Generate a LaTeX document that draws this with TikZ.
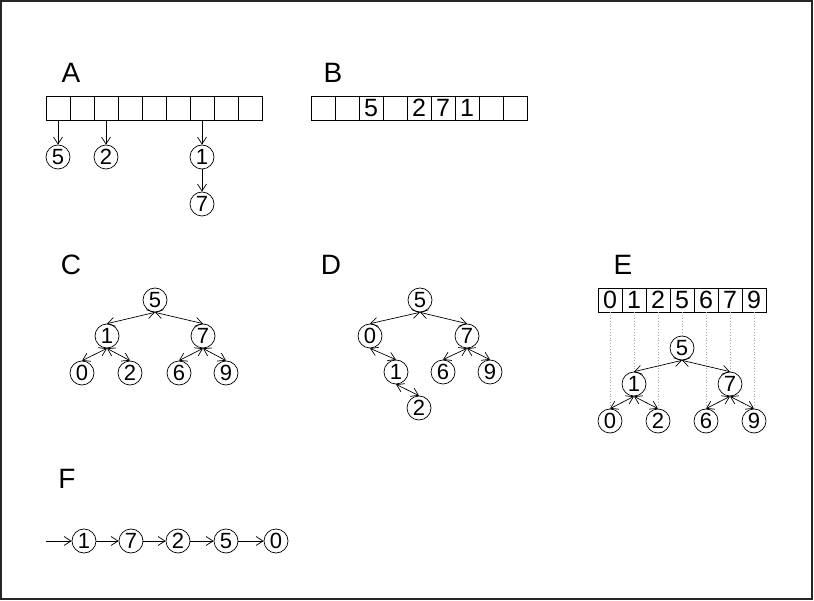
\documentclass[tikz,border=0pt]{standalone}
\usepackage{fontspec}
\setmainfont{Liberation Sans}
\usetikzlibrary{arrows.meta, positioning}

\tikzset{
  tip/.style={-{Straight Barb[length=7pt,width=9pt]}},
  bitip/.style={{Straight Barb[length=7pt,width=9pt]}-{Straight Barb[length=7pt,width=9pt]}},
  key/.style={circle, draw, line width=0.7pt, minimum size=24pt, inner sep=0pt,
    font=\fontsize{22}{22}\selectfont},
  cell/.style={draw, line width=0.7pt, minimum width=24pt, minimum height=24pt,
    inner sep=0pt, font=\fontsize{25}{25}\selectfont},
  title/.style={font=\fontsize{28}{28}\selectfont},
  guide/.style={gray!70, dotted, line width=0.8pt}
}

\begin{document}
\begin{tikzpicture}[x=1pt, y=-1pt, line width=0.7pt]
\useasboundingbox (0,0) rectangle (814,601);
\draw[line width=1.5pt, black!85] (1,1) rectangle (812,599);

% A: table with chains
\node[title] (labA) at (71,73) {A};
\foreach \i in {1,...,9}
  \node[cell] (a\i) at ({34+24*\i},108) {};
\node[key] (a5k) at (58,157) {5};
\node[key] (a2k) at (106,157) {2};
\node[key] (a1k) at (202,157) {1};
\node[key] (a7k) at (202,204) {7};
\draw[tip] (a1.south) -- (a5k.north);
\draw[tip] (a3.south) -- (a2k.north);
\draw[tip] (a7.south) -- (a1k.north);
\draw[tip] (a1k.south) -- (a7k.north);

% B: open addressing
\node[title] (labB) at (333,73) {B};
\foreach \i/\v in {1/,2/,3/5,4/,5/2,6/7,7/1,8/,9/}
  \node[cell] (b\i) at ({299+24*\i},108) {\v};

% C: binary search tree
\node[title] (labC) at (71,265) {C};
\node[key] (c5) at (155,300) {5};
\node[key] (c1) at (107,336) {1};
\node[key] (c7) at (203,336) {7};
\node[key] (c0) at (82,373) {0};
\node[key] (c2) at (130,373) {2};
\node[key] (c6) at (179,373) {6};
\node[key] (c9) at (226,373) {9};
\foreach \p/\c in {c5/c1, c5/c7, c1/c0, c1/c2, c7/c6, c7/c9}
  \draw[bitip] (\p.south) -- (\c.north);

% D: unbalanced tree
\node[title] (labD) at (331,265) {D};
\node[key] (d5) at (420,300) {5};
\node[key] (d0) at (370,336) {0};
\node[key] (d7) at (467,336) {7};
\node[key] (d1) at (396,372) {1};
\node[key] (d6) at (443,372) {6};
\node[key] (d9) at (490,372) {9};
\node[key] (d2) at (419,408) {2};
\foreach \p/\c in {d5/d0, d5/d7, d0/d1, d1/d2, d7/d6, d7/d9}
  \draw[bitip] (\p.south) -- (\c.north);

% E: sorted array and its tree
\node[title] (labE) at (623,265) {E};
\foreach \i/\v in {1/0,2/1,3/2,4/5,5/6,6/7,7/9}
  \node[cell] (ea\i) at ({586+24*\i},300) {\v};
\node[key] (ek5) at (682,348) {5};
\node[key] (ek1) at (634,384) {1};
\node[key] (ek7) at (730,384) {7};
\node[key] (ek0) at (610,421) {0};
\node[key] (ek2) at (658,421) {2};
\node[key] (ek6) at (706,421) {6};
\node[key] (ek9) at (754,421) {9};
\foreach \a/\k in {ea1/ek0, ea2/ek1, ea3/ek2, ea4/ek5, ea5/ek6, ea6/ek7, ea7/ek9}
  \draw[guide] (\a.south) -- (\k.north);
\foreach \p/\c in {ek5/ek1, ek5/ek7, ek1/ek0, ek1/ek2, ek7/ek6, ek7/ek9}
  \draw[bitip] (\p.south) -- (\c.north);

% F: linked list
\node[title] (labF) at (67,479) {F};
\coordinate (fin) at (46,541);
\node[key] (f1) at (84,541) {1};
\node[key] (f7) at (131,541) {7};
\node[key] (f2) at (178,541) {2};
\node[key] (f5) at (226,541) {5};
\node[key] (f0) at (276,541) {0};
\draw[tip] (fin) -- (f1);
\foreach \a/\b in {f1/f7, f7/f2, f2/f5, f5/f0}
  \draw[tip] (\a) -- (\b);
\end{tikzpicture}
\end{document}
